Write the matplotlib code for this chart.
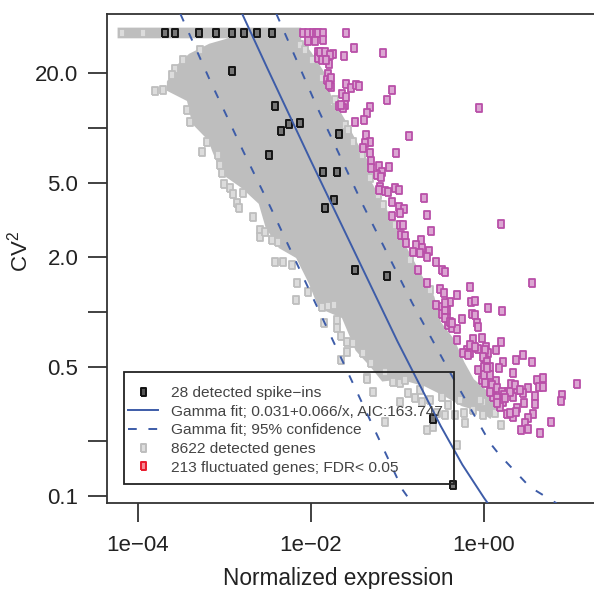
import numpy as np
import matplotlib
matplotlib.use("Agg")
import matplotlib.pyplot as plt
from matplotlib.lines import Line2D
from matplotlib.patches import Rectangle

plt.rcParams['font.family'] = ['Liberation Sans', 'DejaVu Sans']
plt.rcParams['mathtext.default'] = 'regular'

W, H = 594, 589
GRAY = '#bebebe'
MAGENTA = '#b94fa8'
BLUE = '#3d5ca8'
INK = '#333333'
TXT = '#444444'

# All values are log10(normalized expression) and log10(CV2)
cloud_logx = [-4.22,-2.13,-2.13,-2.01,-1.86,-1.78,-1.61,-1.47,-1.35,-1.32,-1.17,-.94,-.74,-.59,-.51,-.36,-.24,-.13,.07,.15,.07,-.05,-.25,-.45,-.68,-.97,-1.17,-1.29,-1.47,-1.63,-1.90,-2.01,-2.16,-2.36,-2.51,-2.59,-2.79,-3.02,-3.13,-3.17,-3.36,-3.40,-3.42,-3.65,-3.65,-3.55,-3.40,-3.17,-2.97,-2.82,-4.22]
cloud_logy = [1.538,1.538,1.478,1.408,1.299,1.169,1.033,.908,.815,.707,.582,.375,.201,.082,-.060,-.152,-.277,-.370,-.451,-.516,-.571,-.533,-.505,-.451,-.397,-.359,-.370,-.299,-.206,-.027,.027,.158,.299,.353,.462,.592,.679,.755,.880,.935,1.027,1.114,1.152,1.207,1.250,1.332,1.397,1.451,1.478,1.495,1.495]

gene_logx = [-3.26,-3.05,-3.03,-3.01,-2.94,-2.90,-2.79,-2.86,-2.83,-2.67,-2.59,-2.59,-2.53,-2.45,-2.38,-2.42,-2.32,-2.22,-2.16,-2.17,-2.03,-1.87,-1.80,-1.73,-1.85,-1.70,-1.70,-1.65,-1.58,-1.51,-1.58,-1.65,-1.40,-1.31,-1.35,-3.80,-3.71,-3.43,-3.40,-3.20,-3.08,-4.18,-3.94,-1.35,-1.28,-1.14,-1.05,-.97,-.97,-.88,-.72,-.66,-.54,-.49,-.23,-.22,-.13,-.01,-.01,.13,.20,-.31,-.05,-.28,-.59,-1.75,-1.61,-1.51,-1.32,-1.17,
 -1.14,-.91,-.74,-.62,-.42,-.34,-.80,-.45,-3.57,-3.48,-3.61,-3.28,-2.13,-2.07,-1.99,-1.87,-1.72,-1.57,-1.41,-1.22,-1.03,-.85,-.62]
gene_logy = [.870,.799,.755,.696,.674,.641,.647,.592,.565,.516,.446,.408,.435,.391,.380,.272,.272,.255,.158,.065,.109,.027,.033,.038,-.060,-.043,-.087,-.130,-.163,-.168,-.217,-.261,-.223,-.277,-.359,1.201,1.207,1.098,1.033,.924,.853,1.516,1.516,-.364,-.435,-.598,-.380,-.386,-.489,-.440,-.489,-.641,-.549,-.462,-.549,-.603,-.533,-.489,-.560,-.549,-.614,-.723,-.478,-.478,-.625,1.141,1.016,.924,.728,.582,
 -.326,-.370,-.424,-.478,-.505,-.560,-.467,-.560,1.321,1.370,1.288,1.424,1.451,1.424,1.370,1.272,1.152,.989,.853,.636,.473,.283,.120]

fluct_logx = [-2.09,-2.03,-1.98,-1.94,-1.92,-1.86,-1.60,-2.03,-1.95,-1.86,-1.50,-1.17,-1.62,-1.75,-1.92,-1.90,-1.86,-1.81,-1.92,-1.79,-1.80,-1.81,-1.78,-1.77,-1.60,-1.54,-1.48,-1.45,-1.06,-1.12,-1.64,-1.60,-1.68,-1.61,-1.63,-1.32,-1.35,-.06,-1.49,-1.39,-.87,-1.36,-1.32,-1.38,-1.40,-1.02,-1.32,-1.31,-1.31,-1.21,-1.10,-1.18,-1.24,-1.19,-1.20,-1.21,-1.14,-1.11,-1.03,-.98,-.69,
 -1.06,-.98,-.92,-.97,-1.06,-.66,.20,-.97,-.94,-.61,-.96,-.91,-.90,-.73,-.79,-.82,-.72,-.74,-.64,-.66,-.55,-.49,-.45,-.76,-.66,.55,-.51,-.46,-.16,-.31,-.15,-.10,-.39,-.55,-.49,-.43,.05,.21,-.49,-.14,-.10,-.43,-.25,-.08,-.07,-.42,-.37,-.31,-.13,-.02,.20,-.31,-.13,.02,-.20,-.24,-.16,-.07,.05,.14,.01,.37,.45,.55,.22,.17,-.01,-.07,.03,.34,-.02,.07,.14,.61,.68,.31,1.08,.64,.68,.51,.38,.10,.45,.28,.16,.59,.90,.89,.18,.10,.34,.22,.46,.59,.18,.38,.27,.34,.57,.51,.77,.47,.51,.43,.65,
 -1.90,-1.84,-1.78,-1.87,-1.83,-1.77,-1.79,-1.65,-.45,-.45,-.39,-.37,-.45,
 .01,-.01,.03,0,.07,0,.07,.01,.09,.15,.07,.21,.15,.23,.30,.24,.36,.42,.15,.03,.30,.37,-.16,-.10,-.18]
fluct_logy = [1.516,1.516,1.516,1.516,1.516,1.516,1.516,1.473,1.473,1.478,1.435,1.408,1.391,1.402,1.413,1.386,1.397,1.386,1.380,1.348,1.294,1.261,1.250,1.223,1.239,1.217,1.234,1.228,1.207,1.152,1.185,1.169,1.120,1.125,1.109,1.114,1.082,1.109,1.033,1.044,.957,.962,.924,.919,.891,.864,.864,.821,.783,.794,.788,.761,.745,.734,.679,.663,.658,.652,.674,.663,.620,
 .598,.571,.560,.538,.522,.527,.478,.473,.473,.440,.419,.413,.375,.391,.364,.326,.348,.321,.332,.299,.272,.228,.217,.228,.158,.158,.125,.103,.136,.092,.054,.060,.054,.038,.027,.011,.022,.005,-.011,-.011,-.016,-.033,-.038,-.060,-.082,-.071,-.087,-.092,-.147,-.141,-.163,-.152,-.190,-.190,-.206,-.223,-.223,-.201,-.223,-.206,-.261,-.261,-.234,-.272,-.272,-.304,-.315,-.315,-.342,-.331,-.370,-.380,-.375,-.370,-.359,-.391,-.391,-.408,-.408,-.413,-.424,-.424,-.440,-.435,-.435,-.457,-.451,-.484,-.478,-.462,-.462,-.489,-.495,-.500,-.516,-.522,-.554,-.571,-.554,-.576,-.598,-.603,-.636,-.641,-.658,
 1.413,1.413,1.397,1.370,1.370,1.272,1.234,1.125,.011,-.033,-.054,-.060,.049,
 -.206,-.245,-.272,-.299,-.299,-.342,-.342,-.386,-.397,-.413,-.435,-.435,-.467,-.451,-.435,-.467,-.397,-.424,-.495,-.304,-.549,-.543,-.179,-.190,-.234]

spike_logx = [-3.69,-3.57,-3.29,-3.10,-2.91,-2.78,-2.63,-2.45,-2.91,-2.42,-2.25,-2.13,-2.35,-2.49,-1.68,-1.86,-1.70,-1.73,-1.84,-1.49,-1.12,-.59,-.36]
spike_logy = [1.516,1.516,1.516,1.516,1.516,1.516,1.516,1.516,1.310,1.120,1.022,1.027,.984,.853,.967,.761,.761,.609,.565,.228,.196,-.582,-.940]

fit_logx = [-2.80,-2.50,-2.00,-1.50,-1.00,-.50,-.25,0.0,.06]
fit_logy = [1.625,1.32,.82,.33,-.16,-.62,-.83,-1.01,-1.05]
low_logx = [-3.51,-3.17,-2.79,-2.47,-1.63,-.94,-.83]
low_logy = [1.62,1.261,.880,.571,-.272,-.967,-1.04]
high_logx = [-2.40,-1.93,-1.40,-.83,-.39,.07,.18,.53,.84]
high_logy = [1.62,1.114,.582,.049,-.331,-.712,-.777,-.951,-1.04]

x_ticks = [1e-4, 1e-2, 1e0]
x_ticklabels = ['1e\u221204', '1e\u221202', '1e+00']
y_ticks = [0.1, 0.2, 0.5, 1, 2, 5, 10, 20]
y_ticklabels = ['0.1', '', '0.5', '', '2.0', '5.0', '', '20.0']

legend_labels = ['28 detected spike\u2212ins',
                 'Gamma fit; 0.031+0.066/x, AIC:163.747',
                 'Gamma fit; 95% confidence',
                 '8622 detected genes',
                 '213 fluctuated genes; FDR< 0.05']

rect = [(-.6, -1), (.6, -1), (.6, 1), (-.6, 1), (-.6, -1)]

def pow10(v):
    return 10 ** np.asarray(v, dtype=float)

fig = plt.figure(figsize=(W / 100, H / 100), dpi=100)
L, R, T, B = 107, 596, 13.5, 502.7
ax = fig.add_axes([L / W, 1 - B / H, (R - L) / W, (B - T) / H])
ax.set_xscale('log')
ax.set_yscale('log')
ax.set_xlim(10 ** ((L - 484) / 86.5), 10 ** ((R - 484) / 86.5))
ax.set_ylim(10 ** (-1 + (496 - B) / 184), 10 ** (-1 + (496 - T) / 184))

ax.fill(pow10(cloud_logx), pow10(cloud_logy), color=GRAY, lw=2, zorder=1)
mk = dict(marker=rect, ls='none', ms=6.4)
ax.plot(pow10(gene_logx), pow10(gene_logy), mec=GRAY, mfc='#dcdcdc', mew=1.3, zorder=2, **mk)
ax.plot(pow10(fluct_logx), pow10(fluct_logy), mec=MAGENTA, mfc='#dba6d2', mew=1.3, zorder=3, **mk)
ax.plot(pow10(spike_logx), pow10(spike_logy), mec='#151515', mfc='#777777', mew=1.4, zorder=4, **mk)

ax.plot(pow10(fit_logx), pow10(fit_logy), color=BLUE, lw=1.4, zorder=5)
dash = (0, (4.2, 6.6))
ax.plot(pow10(low_logx), pow10(low_logy), color=BLUE, lw=1.4, ls=dash, zorder=5)
ax.plot(pow10(high_logx), pow10(high_logy), color=BLUE, lw=1.4, ls=dash, zorder=5)

ax.set_xticks(x_ticks, x_ticklabels)
ax.set_yticks(y_ticks, y_ticklabels)
ax.minorticks_off()
ax.tick_params(axis='both', length=13.7, width=1.3, color=INK, labelsize=16, labelcolor='#222222')
ax.tick_params(axis='x', pad=9.5)
ax.tick_params(axis='y', pad=7)
for s in ax.spines.values():
    s.set_color(INK)
    s.set_linewidth(1.3)

ax.set_xlabel('Normalized expression', fontsize=16.3, color='#222222')
ax.xaxis.set_label_coords((338 - L) / (R - L), -(578 - B) / (B - T), transform=ax.transAxes)
ax.xaxis.label.set_va('center')
ax.set_ylabel('CV$^2$', fontsize=16, color='#222222')
ax.yaxis.set_label_coords(-(107 - 20) / (R - L), (B - 252) / (B - T), transform=ax.transAxes)
ax.yaxis.label.set_va('center')

ax.add_patch(Rectangle((124 / W, 1 - 484 / H), 330 / W, 112 / H, transform=fig.transFigure,
                       fill=False, ec='#222222', lw=1.3, zorder=6, clip_on=False))

handles = [
    Line2D([], [], marker=rect, ls='none', mfc='#555555', mec='#111111', ms=6.0, mew=1.4),
    Line2D([], [], color=BLUE, lw=1.4),
    Line2D([], [], color=BLUE, lw=1.4, ls=(0, (4.5, 6))),
    Line2D([], [], marker=rect, ls='none', mfc='#dddddd', mec=GRAY, ms=6.0, mew=1.4),
    Line2D([], [], marker=rect, ls='none', mfc='#f58a95', mec='#e8192c', ms=6.0, mew=1.4),
]
leg = ax.legend(handles, legend_labels, loc='upper left', frameon=False, fontsize=11.15,
                bbox_to_anchor=(128 / W, 1 - 386 / H), bbox_transform=fig.transFigure,
                borderpad=0, borderaxespad=0, handlelength=1.91, handletextpad=0.84,
                labelspacing=0.30, numpoints=1)
leg.set_zorder(7)
for t in leg.get_texts():
    t.set_color(TXT)

fig.savefig('out.png', dpi=100)
